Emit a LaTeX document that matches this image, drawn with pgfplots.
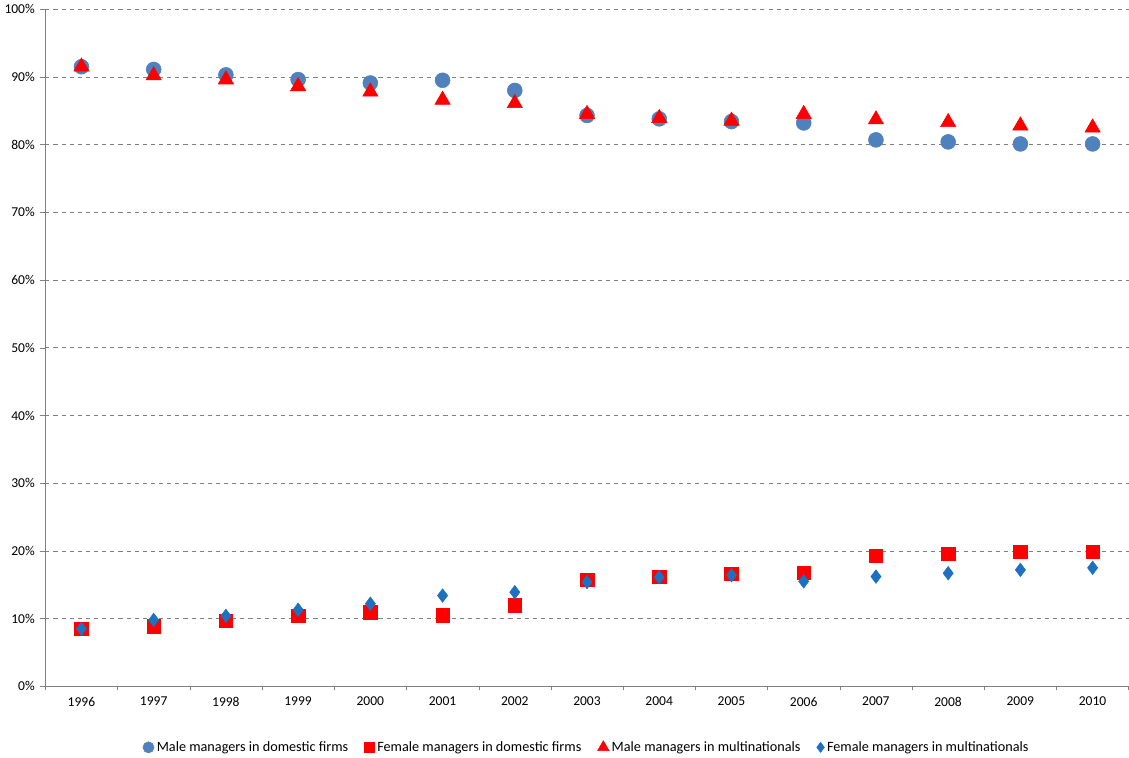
\documentclass[border=0pt]{standalone}
\usepackage{pgfplots}
\pgfplotsset{compat=1.18}
\usepackage{fontspec}
\setmainfont{Carlito}
\definecolor{cblue}{RGB}{79,129,189}
\definecolor{dblue}{RGB}{30,112,192}
\begin{document}
\begin{tikzpicture}
\begin{axis}[
  scale only axis, width=800pt, height=500pt,
  xmin=1995.5, xmax=2010.5, ymin=0, ymax=100,
  axis lines*=left, axis line style={gray},
  xtick={1996,...,2010}, xticklabel style={/pgf/number format/1000 sep={}},
  minor xtick={1995.5,1996.5,...,2010.5},
  major x tick style={draw=none}, minor x tick style={gray},
  ytick={0,10,...,100}, yticklabel={\pgfmathprintnumber{\tick}\%},
  ymajorgrids, grid style={gray,dashed},
  /pgf/number format/assume math mode=true,
  tick label style={font=\fontsize{10}{12}\selectfont},
  tick align=outside,
  legend columns=4,
  legend style={at={(0.5,-0.075)},anchor=north,draw=none,font=\fontsize{10.5}{12}\selectfont,/tikz/every even column/.append style={column sep=10pt},inner sep=1pt},
  legend cell align=left,
  legend image post style={scale=0.75},
]
\addplot[only marks,mark=*,mark size=5.5pt,color=cblue] coordinates {(1996,91.5)(1997,91.1)(1998,90.3)(1999,89.6)(2000,89.1)(2001,89.5)(2002,88.0)(2003,84.3)(2004,83.8)(2005,83.4)(2006,83.2)(2007,80.7)(2008,80.4)(2009,80.1)(2010,80.1)};
\addplot[only marks,mark=square*,mark size=5pt,color=red] coordinates {(1996,8.5)(1997,8.9)(1998,9.7)(1999,10.4)(2000,10.9)(2001,10.5)(2002,12.0)(2003,15.7)(2004,16.2)(2005,16.6)(2006,16.8)(2007,19.3)(2008,19.6)(2009,19.9)(2010,19.9)};
\addplot[only marks,mark=triangle*,mark size=6.5pt,color=red] coordinates {(1996,91.5)(1997,90.2)(1998,89.6)(1999,88.6)(2000,87.8)(2001,86.6)(2002,86.1)(2003,84.5)(2004,83.9)(2005,83.5)(2006,84.5)(2007,83.7)(2008,83.3)(2009,82.8)(2010,82.5)};
\addplot[only marks,mark=diamond*,mark size=5pt,color=dblue] coordinates {(1996,8.5)(1997,9.8)(1998,10.4)(1999,11.3)(2000,12.2)(2001,13.4)(2002,13.9)(2003,15.4)(2004,16.1)(2005,16.4)(2006,15.5)(2007,16.2)(2008,16.7)(2009,17.2)(2010,17.5)};
\legend{Male managers in domestic firms,Female managers in domestic firms,Male managers in multinationals,Female managers in multinationals}
\end{axis}
\end{tikzpicture}
\end{document}
